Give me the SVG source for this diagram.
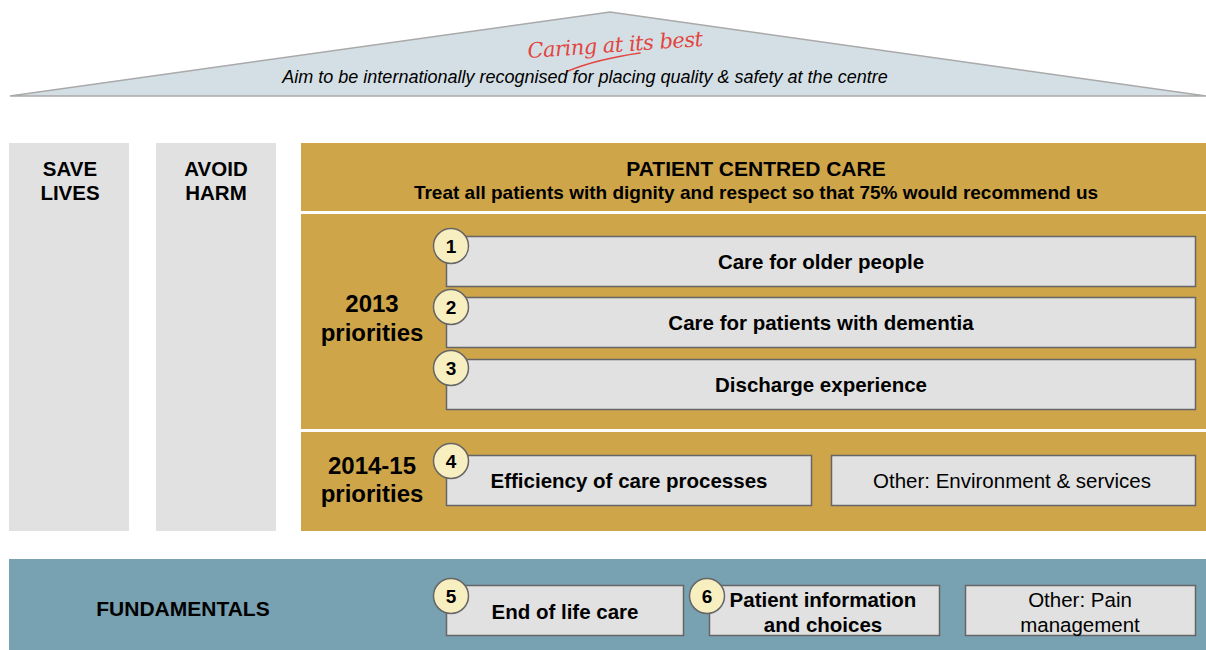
<svg xmlns="http://www.w3.org/2000/svg" width="1206" height="650" viewBox="0 0 1206 650">
  <style>
    .pillar { fill: #e1e1e1; }
    .gold { fill: #cfa54a; }
    .band { fill: #78a1b2; }
    .box { fill: #e1e1e1; stroke: #666; stroke-width: 1.5; }
    .badge { fill: #f8efc1; stroke: #666; stroke-width: 1.5; }
    .t { font-family: "Liberation Sans", Arial, sans-serif; fill: #000; text-anchor: middle; }
    .b { font-weight: bold; }
    .num { font-family: "Liberation Sans", Arial, sans-serif; font-weight: bold; font-size: 19px; text-anchor: middle; fill: #000; }
  </style>

  <!-- roof -->
  <g id="roof">
    <polygon points="10,96 610,12 1206,96" fill="#d4dfe5" stroke="#a9a9a9" stroke-width="1.5"/>
    <g transform="rotate(-4 615 45)">
      <text x="615" y="52" text-anchor="middle" font-family="'DejaVu Serif', serif" font-style="italic" font-size="21" fill="#e2453f" letter-spacing="-0.5">Caring at its best</text>
    </g>
    <path d="M568,71 C590,62 612,57 640,53" fill="none" stroke="#e2453f" stroke-width="1.6" stroke-linecap="round"/>
    <text class="t" x="585" y="83" font-style="italic" font-size="18">Aim to be internationally recognised for placing quality &amp; safety at the centre</text>
  </g>

  <!-- pillars -->
  <g id="save-lives">
    <rect class="pillar" x="9" y="143" width="120" height="388"/>
    <text class="t b" x="70" y="176" font-size="20.5">SAVE</text>
    <text class="t b" x="70" y="200" font-size="20.5">LIVES</text>
  </g>
  <g id="avoid-harm">
    <rect class="pillar" x="156" y="143" width="120" height="388"/>
    <text class="t b" x="216" y="176" font-size="20.5">AVOID</text>
    <text class="t b" x="216" y="200" font-size="20.5">HARM</text>
  </g>

  <!-- patient centred care -->
  <g id="patient-centred-care">
    <rect class="gold" x="301" y="143" width="905" height="68"/>
    <text class="t b" x="756" y="176" font-size="21">PATIENT CENTRED CARE</text>
    <text class="t b" x="756" y="199" font-size="19">Treat all patients with dignity and respect so that 75% would recommend us</text>
  </g>

  <g id="priorities-2013">
    <rect class="gold" x="301" y="214" width="905" height="215"/>
    <text class="t b" x="372" y="312" font-size="24">2013</text>
    <text class="t b" x="372" y="341" font-size="24">priorities</text>
  </g>

  <g id="priorities-2014-15">
    <rect class="gold" x="301" y="432" width="905" height="99"/>
    <text class="t b" x="372" y="474" font-size="24">2014-15</text>
    <text class="t b" x="372" y="502" font-size="24">priorities</text>
  </g>

  <g id="p1">
    <rect class="box" x="446.5" y="236.5" width="749" height="50"/>
    <circle class="badge" cx="451" cy="246" r="17.5"/>
    <text class="num" x="451" y="253">1</text>
    <text class="t b" x="821" y="269" font-size="20.5">Care for older people</text>
  </g>
  <g id="p2">
    <rect class="box" x="446.5" y="297.5" width="749" height="50"/>
    <circle class="badge" cx="451" cy="307" r="17.5"/>
    <text class="num" x="451" y="314">2</text>
    <text class="t b" x="821" y="330" font-size="20.5">Care for patients with dementia</text>
  </g>
  <g id="p3">
    <rect class="box" x="446.5" y="359.5" width="749" height="50"/>
    <circle class="badge" cx="451" cy="368" r="17.5"/>
    <text class="num" x="451" y="375">3</text>
    <text class="t b" x="821" y="392" font-size="20.5">Discharge experience</text>
  </g>
  <g id="p4">
    <rect class="box" x="446.5" y="455.5" width="365" height="50"/>
    <circle class="badge" cx="451" cy="461" r="17.5"/>
    <text class="num" x="451" y="468">4</text>
    <text class="t b" x="629" y="488" font-size="20.5">Efficiency of care processes</text>
  </g>
  <g id="other-environment">
    <rect class="box" x="831.5" y="455.5" width="364" height="50"/>
    <text class="t" x="1012" y="488" font-size="20.5">Other: Environment &amp; services</text>
  </g>

  <!-- fundamentals -->
  <g id="fundamentals">
    <rect class="band" x="9" y="559" width="1197" height="91"/>
    <text class="t b" x="183" y="616" font-size="21">FUNDAMENTALS</text>
  </g>
  <g id="p5">
    <rect class="box" x="446.5" y="585.5" width="237" height="50"/>
    <circle class="badge" cx="451" cy="596" r="17.5"/>
    <text class="num" x="451" y="603">5</text>
    <text class="t b" x="565" y="619" font-size="20.5">End of life care</text>
  </g>
  <g id="p6">
    <rect class="box" x="709.5" y="585.5" width="230" height="50"/>
    <circle class="badge" cx="707" cy="596" r="17.5"/>
    <text class="num" x="707" y="603">6</text>
    <text class="t b" x="823" y="607" font-size="20.5">Patient information</text>
    <text class="t b" x="823" y="632" font-size="20.5">and choices</text>
  </g>
  <g id="other-pain">
    <rect class="box" x="965.5" y="585.5" width="230" height="50"/>
    <text class="t" x="1080" y="607" font-size="20.5">Other: Pain</text>
    <text class="t" x="1080" y="632" font-size="20.5">management</text>
  </g>
</svg>
